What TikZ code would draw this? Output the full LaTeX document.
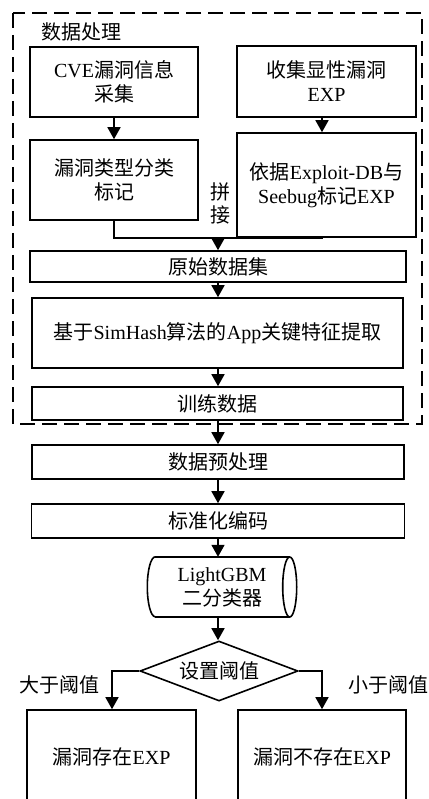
\documentclass[tikz,border=0pt]{standalone}
\usepackage{fontspec}
\setmainfont{Liberation Serif}
\newfontfamily\cjk{Noto Sans CJK SC}
\usetikzlibrary{arrows.meta,shapes.geometric,calc}
\tikzset{
  txt/.style={font=\fontsize{20}{24}\selectfont, align=center},
  box/.style={txt, draw, line width=1.6pt, inner sep=0pt},
  arr/.style={line width=1.6pt, -{Triangle[width=13pt,length=12pt]}},
  ln/.style={line width=1.6pt},
  frame/.style={draw, line width=2.2pt, dash pattern=on 15pt off 7pt},
  lbl/.style={txt, inner sep=0pt}
}
\begin{document}
\begin{tikzpicture}[x=1pt,y=-1pt]
\clip (0,0) rectangle (428,799);
% dashed frame
\draw[frame] (13,13) rectangle (422,424);
\node[lbl, anchor=west] (title) at (41,32) {\cjk 数据处理};
% top boxes
\node[box, minimum width=168pt, minimum height=70pt] (b1) at (114,82) {CVE{\cjk 漏洞信息}\\{\cjk 采集}};
\node[box, minimum width=179pt, minimum height=71pt] (b2) at (326.5,81.5) {{\cjk 收集显性漏洞}\\EXP};
\node[box, minimum width=168pt, minimum height=80pt] (b3) at (114,180) {{\cjk 漏洞类型分类}\\{\cjk 标记}};
\node[box, minimum width=179pt, minimum height=104pt] (b4) at (326.5,185) {{\cjk 依据}Exploit-DB{\cjk 与}\\Seebug{\cjk 标记}EXP};
\node[lbl] (pj) at (220,203) {{\cjk 拼}\\[-1pt]{\cjk 接}};
\node[box, minimum width=376pt, minimum height=31pt] (raw) at (218,266.5) {\cjk 原始数据集};
\node[box, minimum width=371pt, minimum height=70pt] (sim) at (217.5,333) {{\cjk 基于}SimHash{\cjk 算法的}App{\cjk 关键特征提取}};
\node[box, minimum width=371pt, minimum height=33pt] (train) at (217.5,403.5) {\cjk 训练数据};
% lower chain
\node[box, minimum width=372pt, minimum height=34pt] (pre) at (218,462) {\cjk 数据预处理};
\node[box, minimum width=373pt, minimum height=34pt] (std) at (218,521) {\cjk 标准化编码};
\node[txt, inner sep=0pt, minimum width=149pt, minimum height=60pt] (clf) at (222,587) {LightGBM\\{\cjk 二分类器}};
\draw[ln] ($(clf.north west)+(8,0)$) -- ($(clf.north east)+(-7,0)$);
\draw[ln] ($(clf.south west)+(8,0)$) -- ($(clf.south east)+(-7,0)$);
\draw[ln] ($(clf.east)+(-7,0)$) ellipse [x radius=7pt, y radius=30pt];
\draw[ln] ($(clf.north west)+(8,0)$) arc [start angle=90, end angle=270, x radius=8pt, y radius=30pt];
\node[txt, diamond, draw, line width=1.6pt, inner sep=0pt, aspect=2.63, minimum width=158pt, minimum height=60pt] (dia) at (219,671) {\cjk 设置阈值};
\node[lbl] (gt) at (59,685) {\cjk 大于阈值};
\node[lbl] (lt) at (388,685) {\cjk 小于阈值};
\node[box, minimum width=169pt, minimum height=94pt] (yes) at (111.5,757) {{\cjk 漏洞存在}EXP};
\node[box, minimum width=168pt, minimum height=94pt] (no) at (322,757) {{\cjk 漏洞不存在}EXP};
% connectors
\coordinate (j) at (218,238);
\draw[arr] (b1) -- (b3);
\draw[arr] (b2.south -| 322,0) -- (b4.north -| 322,0);
\draw[ln] (b3.south) |- (j);
\draw[ln] (b4.south -| 322,0) |- (j);
\draw[arr] (j) -- (j |- raw.north);
\draw[arr] (raw.south -| 218,0) -- (sim.north -| 218,0);
\draw[arr] (sim.south -| 218,0) -- (train.north -| 218,0);
\draw[arr] (train.south -| 218,0) -- (pre.north -| 218,0);
\draw[arr] (pre.south -| 218,0) -- (std.north -| 218,0);
\draw[arr] (std.south -| 218,0) -- (clf.north -| 218,0);
\draw[arr] (clf.south -| 218,0) -- (dia.north -| 218,0);
\draw[arr] (dia.west) -| (112,0 |- yes.north);
\draw[arr] (dia.east) -| (322,0 |- no.north);
\end{tikzpicture}
\end{document}
